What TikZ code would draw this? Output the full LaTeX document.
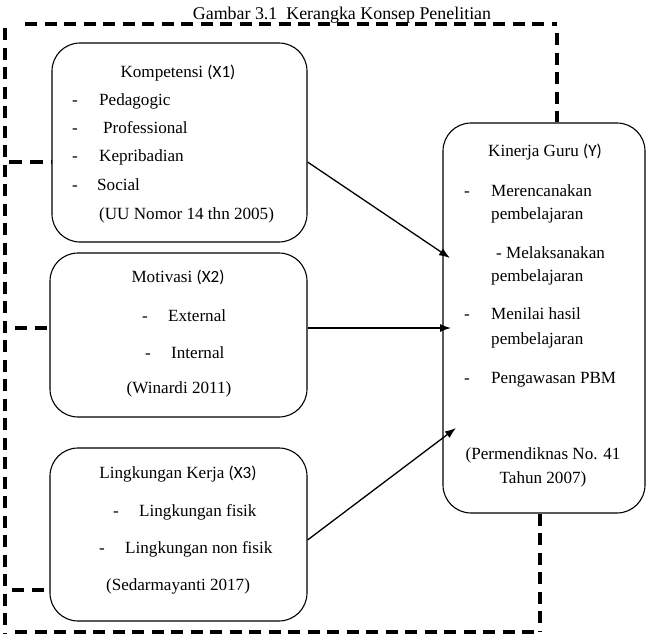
\documentclass[tikz,border=0pt]{standalone}
\usepackage{fontspec}
\setmainfont{Liberation Serif}
\newfontfamily\sansx{Carlito}
\usetikzlibrary{arrows.meta}
\begin{document}
\begin{tikzpicture}[x=1pt,y=-1pt,
  font=\fontsize{17.1}{20}\selectfont,
  box/.style={draw, line width=1.1pt, rounded corners=28pt, inner sep=0pt},
  frame/.style={line width=3.6pt, dash pattern=on 12pt off 7.5pt},
  arr/.style={line width=1.3pt, -{Latex[length=11pt,width=8pt]}},
  lt/.style={inner sep=0pt, anchor=base west},
  ct/.style={inner sep=0pt, anchor=base}]
\useasboundingbox (0,0) rectangle (649,635);

% title
\node[ct, font=\fontsize{17.9}{20}\selectfont] (title) at (342,19) {Gambar 3.1\ \ Kerangka Konsep Penelitian};

% boxes
\node[box, minimum width=255pt, minimum height=199pt] (b1) at (179.5,142.5) {};
\node[box, minimum width=257pt, minimum height=164pt] (b2) at (178.5,335) {};
\node[box, minimum width=257pt, minimum height=173pt] (b3) at (178.5,534.5) {};
\node[box, minimum width=202pt, minimum height=390pt] (by) at (544,318) {};

% box 1 text
\node[ct] (t1) at (178,77) {Kompetensi {\sansx (X1)}};
\node[lt] (d11) at (72,105.5) {-};
\node[lt] (i11) at (99,105.5) {Pedagogic};
\node[lt] (d12) at (72,133.5) {-};
\node[lt] (i12) at (103,133.5) {Professional};
\node[lt] (d13) at (72,161.5) {-};
\node[lt] (i13) at (99,161.5) {Kepribadian};
\node[lt] (d14) at (72,190.5) {-};
\node[lt] (i14) at (97,190.5) {Social};
\node[lt] (s1) at (99,219.5) {(UU Nomor 14 thn 2005)};

% box 2 text
\node[ct] (t2) at (178,282) {Motivasi {\sansx (X2)}};
\node[lt] (d21) at (142,321) {-};
\node[lt] (i21) at (168,321) {External};
\node[lt] (d22) at (145,358) {-};
\node[lt] (i22) at (171,358) {Internal};
\node[ct] (s2) at (179,393) {(Winardi 2011)};

% box 3 text
\node[ct] (t3) at (178,478) {Lingkungan Kerja {\sansx (X3)}};
\node[lt] (d31) at (113,516) {-};
\node[lt] (i31) at (139,516) {Lingkungan fisik};
\node[lt] (d32) at (99,553) {-};
\node[lt] (i32) at (125,553) {Lingkungan non fisik};
\node[ct] (s3) at (178,590) {(Sedarmayanti 2017)};

% right box text
\node[ct] (ty) at (545,156) {Kinerja Guru {\sansx (Y)}};
\node[lt] (dy1) at (464,196) {-};
\node[lt] (iy1) at (491,196) {Merencanakan};
\node[lt] (iy1b) at (491,219.5) {pembelajaran};
\node[lt] (iy2) at (496,258.5) {- Melaksanakan};
\node[lt] (iy2b) at (491,281.5) {pembelajaran};
\node[lt] (dy3) at (464,319.5) {-};
\node[lt] (iy3) at (491,319.5) {Menilai hasil};
\node[lt] (iy3b) at (491,344) {pembelajaran};
\node[lt] (dy4) at (464,383) {-};
\node[lt] (iy4) at (491,383) {Pengawasan PBM};
\node[ct] (sy1) at (543,459) {(Permendiknas No. 41};
\node[ct] (sy2) at (543,483) {Tahun 2007)};

% arrow anchors
\coordinate (a1s) at (b1.east |- 0,162);
\coordinate (a1e) at (450,258);
\coordinate (a2s) at (b2.east |- 0,328);
\coordinate (a2e) at (451,328);
\coordinate (a3s) at (b3.east |- 0,540);
\coordinate (a3e) at (456,428);
\draw[arr] (a1s) -- (a1e);
\draw[arr] (a2s) -- (a2e);
\draw[arr] (a3s) -- (a3e);

% dashed frame
\coordinate (ftl) at (25,24);
\coordinate (ftr) at (557,24);
\coordinate (frt) at (557,33);
\coordinate (flt) at (5,28);
\coordinate (flb) at (5,633);
\coordinate (fbl) at (15,632);
\coordinate (fbr) at (540,632);
\coordinate (st1) at (5,162);
\coordinate (st2) at (15,328);
\coordinate (st3) at (12,590);
\draw[frame] (ftl) -- (ftr);
\draw[frame] (frt) -- (by.north -| frt);
\draw[frame] (flt) -- (flb);
\draw[frame] (fbl) -- (fbr);
\draw[frame] (by.south -| fbr) -- (fbr);
\draw[frame, dash pattern=on 13pt off 8pt, dash phase=-4pt] (st1) -- (b1.west |- st1);
\draw[frame] (st2) -- (b2.west |- st2);
\draw[frame] (st3) -- (b3.west |- st3);
\end{tikzpicture}
\end{document}
